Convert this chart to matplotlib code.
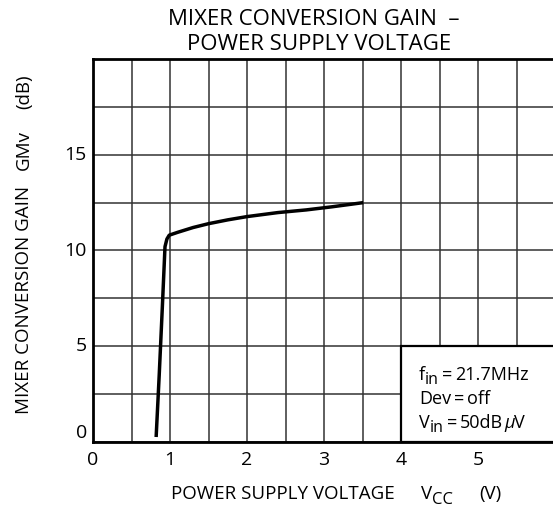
import matplotlib
matplotlib.use('Agg')
import matplotlib.pyplot as plt
from matplotlib.patches import Rectangle

# curve
vcc = [0.82, 0.86, 0.90, 0.935, 0.96, 0.99, 1.1, 1.3, 1.5, 1.75, 2.0, 2.4, 2.77, 3.1, 3.51]
gain = [0.26, 3.5, 7.0, 10.2, 10.6, 10.8, 10.95, 11.2, 11.4, 11.6, 11.77, 11.98, 12.12, 12.28, 12.5]

x_ticks = [0, 1, 2, 3, 4, 5]
y_ticks = [0, 5, 10, 15]

W, H = 553, 507

plt.rcParams['font.family'] = ['Open Sans', 'DejaVu Sans']

fig = plt.figure(figsize=(W / 100, H / 100), dpi=100)
ax = fig.add_axes([93 / W, 65 / H, 462 / W, 383 / H])
renderer = fig.canvas.get_renderer()


def run_text(x, y, pieces):
    # pieces: (string, fontsize, drop in px, gap after in px, style)
    for s, size, dy, gap, style in pieces:
        t = fig.text(x / W, 1 - (y + dy) / H, s, fontsize=size, style=style,
                     ha='left', va='baseline', zorder=6)
        x += t.get_window_extent(renderer).width + gap


ax.set_xlim(0, 6)
ax.set_ylim(0, 20)
ax.set_xticks([i * 0.5 for i in range(13)])
ax.set_yticks([i * 2.5 for i in range(9)])
ax.grid(True, color='#333333', linewidth=1.1)
ax.set_xticklabels([])
ax.set_yticklabels([])
ax.tick_params(length=0)

for t in x_ticks:
    ax.text(t, -0.45, str(t), ha='center', va='top', fontsize=14)
for t in y_ticks:
    ax.text(-0.08, t, str(t), ha='right', va='center' if t else 'bottom', fontsize=14)

for side in ['left', 'bottom', 'top']:
    ax.spines[side].set_linewidth(2)
ax.spines['right'].set_visible(False)

ax.add_patch(Rectangle((4, 0), 2.1, 5, facecolor='white', edgecolor='black',
                       linewidth=1.6, zorder=3, clip_on=False))

ax.plot(vcc, gain, color='black', linewidth=2.5, solid_capstyle='butt', zorder=5)

# condition notes
run_text(419, 380, [('f', 13, 0, 0, 'normal'), ('in', 11.5, 4, 3, 'normal'),
                    ('=', 13, 0, 3, 'normal'), ('21.7MHz', 13, 0, 0, 'normal')])
run_text(419, 404, [('Dev', 13, 0, 3, 'normal'), ('=', 13, 0, 3, 'normal'),
                    ('off', 13, 0, 0, 'normal')])
run_text(419, 428, [('V', 13, 0, 0, 'normal'), ('in', 11.5, 4, 3, 'normal'),
                    ('=', 13, 0, 3, 'normal'), ('50dB', 13, 0, 1, 'normal'),
                    ('\u03bc', 13, 0, 0, 'italic'), ('V', 13, 0, 0, 'normal')])

# titles and axis labels
fig.text(314 / W, 1 - 19.5 / H, 'MIXER CONVERSION GAIN  \u2013', ha='center', va='center', fontsize=16)
fig.text(319 / W, 1 - 44.5 / H, 'POWER SUPPLY VOLTAGE', ha='center', va='center', fontsize=16)

run_text(171, 499, [('POWER SUPPLY VOLTAGE', 13.5, 0, 26, 'normal'), ('V', 13.5, 0, 0, 'normal'),
                    ('CC', 12, 5, 26, 'normal'), ('(V)', 13.5, 0, 0, 'normal')])

for word, yc in [('MIXER CONVERSION GAIN', 300), ('GMv', 150), ('(dB)', 92)]:
    fig.text(24 / W, 1 - yc / H, word, fontsize=13.5, rotation=90, ha='center', va='center')

fig.savefig('out.png', dpi=100)
